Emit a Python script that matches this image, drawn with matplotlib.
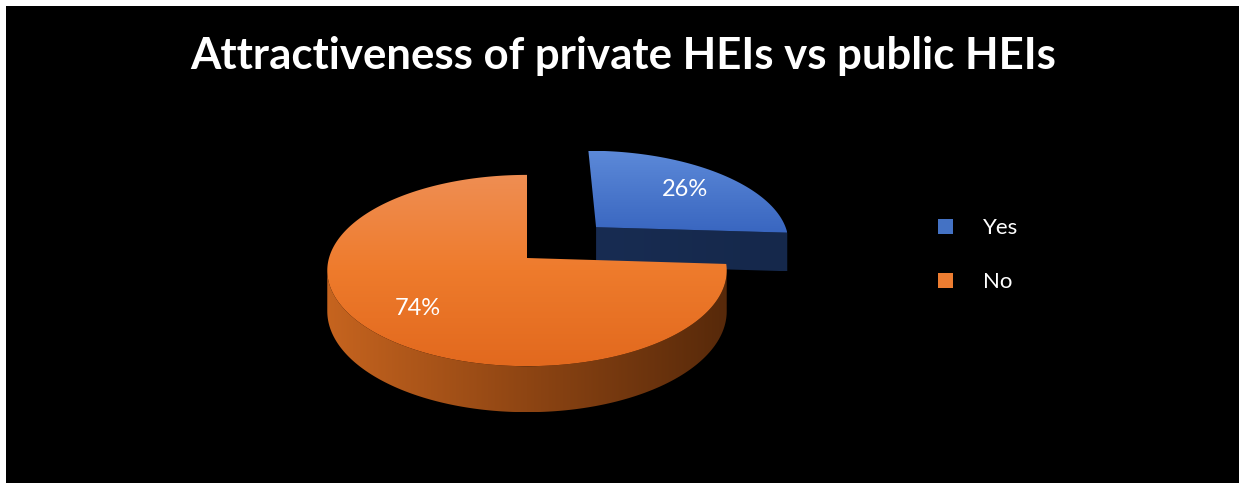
import numpy as np
import matplotlib.pyplot as plt
from matplotlib.patches import Polygon, Rectangle
from matplotlib.colors import LinearSegmentedColormap

title = "Attractiveness of private HEIs vs public HEIs"
labels = ["Yes", "No"]
values = [26, 74]
explode = [0.5, 0.0]

top_colors = [["#5C89D8", "#3966C0"], ["#EF8E53", "#EE7B2C", "#E2691E"]]
side_colors = [["#182C52", "#15284B"], ["#C6641F", "#8E4513", "#57290A"]]
legend_colors = ["#4472C4", "#ED7D31"]

plt.rcParams["font.family"] = ["Lato", "DejaVu Sans"]

# pie geometry in pixels, with a bit of perspective (K)
CX, CY = 527, 258
RX, RY = 198, 94
K = 0.131
DEPTH = 40
LABEL_R = 0.71


def proj(X, Z, drop=0.0):
    s = 1.0 / (1.0 + K * Z)
    return CX + X * RX * s, CY - Z * RY * s + drop * s


def grad_fill(ax, pts, colors, horizontal=False, z=1):
    pts = np.asarray(pts)
    poly = Polygon(pts, closed=True, facecolor="none", edgecolor="none", zorder=z)
    ax.add_patch(poly)
    x0, x1 = pts[:, 0].min(), pts[:, 0].max()
    y0, y1 = pts[:, 1].min(), pts[:, 1].max()
    cmap = LinearSegmentedColormap.from_list("g", colors)
    g = np.linspace(0, 1, 256)
    arr = g[None, :] if horizontal else g[:, None]
    im = ax.imshow(arr, cmap=cmap, extent=(x0, x1, y1, y0), aspect="auto",
                   interpolation="bilinear", zorder=z)
    im.set_clip_path(poly)


fig = plt.figure(figsize=(12.39, 4.83), dpi=100, facecolor="white")
ax = fig.add_axes([0, 0, 1, 1])
ax.set_xlim(0, 1239)
ax.set_ylim(483, 0)
ax.axis("off")
ax.add_patch(Rectangle((6, 6), 1240, 480, facecolor="black", edgecolor="none", zorder=0))

ax.text(623, 69, title, color="white", fontsize=31.5, fontweight="bold",
        ha="center", va="baseline", zorder=10)

theta_s = np.degrees(np.arccos(-K))
total = sum(values)
start = 0.0
for i, v in enumerate(values):
    a0 = start
    a1 = start + 360.0 * v / total
    start = a1
    mid = np.radians((a0 + a1) / 2)
    ox, oz = explode[i] * np.sin(mid), explode[i] * np.cos(mid)
    z = 2 + 3 * i

    # flat radial faces that turn towards the viewer
    for a, nrm in ((a0, a0 - 90), (a1, a1 + 90)):
        if np.cos(np.radians(nrm)) < -0.01:
            ra = np.radians(a)
            c_top = proj(ox, oz)
            e_top = proj(ox + np.sin(ra), oz + np.cos(ra))
            e_bot = proj(ox + np.sin(ra), oz + np.cos(ra), DEPTH)
            c_bot = proj(ox, oz, DEPTH)
            grad_fill(ax, [c_top, e_top, e_bot, c_bot], side_colors[i], True, z)

    # curved outer wall
    w0, w1 = max(a0, theta_s), min(a1, 360 - theta_s)
    if w1 > w0:
        ang = np.radians(np.linspace(w0, w1, 200))
        top = [proj(ox + np.sin(t), oz + np.cos(t)) for t in ang]
        bot = [proj(ox + np.sin(t), oz + np.cos(t), DEPTH) for t in ang[::-1]]
        grad_fill(ax, top + bot, side_colors[i], True, z)

    # top face
    ang = np.radians(np.linspace(a0, a1, 300))
    face = [proj(ox, oz)] + [proj(ox + np.sin(t), oz + np.cos(t)) for t in ang]
    grad_fill(ax, face, top_colors[i], False, z + 1)

    lx, ly = proj(ox + LABEL_R * np.sin(mid), oz + LABEL_R * np.cos(mid))
    ax.text(lx, ly + 8.5, f"{v}%", color="white", fontsize=17, ha="center",
            va="baseline", zorder=10)

# legend
for i, lab in enumerate(labels):
    y = 226 + 54 * i
    ax.add_patch(Rectangle((938, y - 7.5), 15, 15, facecolor=legend_colors[i],
                           edgecolor="none", zorder=10))
    ax.text(983, y + 8, lab, color="white", fontsize=16, ha="left", va="baseline", zorder=10)

fig.savefig("out.png", dpi=100, facecolor="white")
